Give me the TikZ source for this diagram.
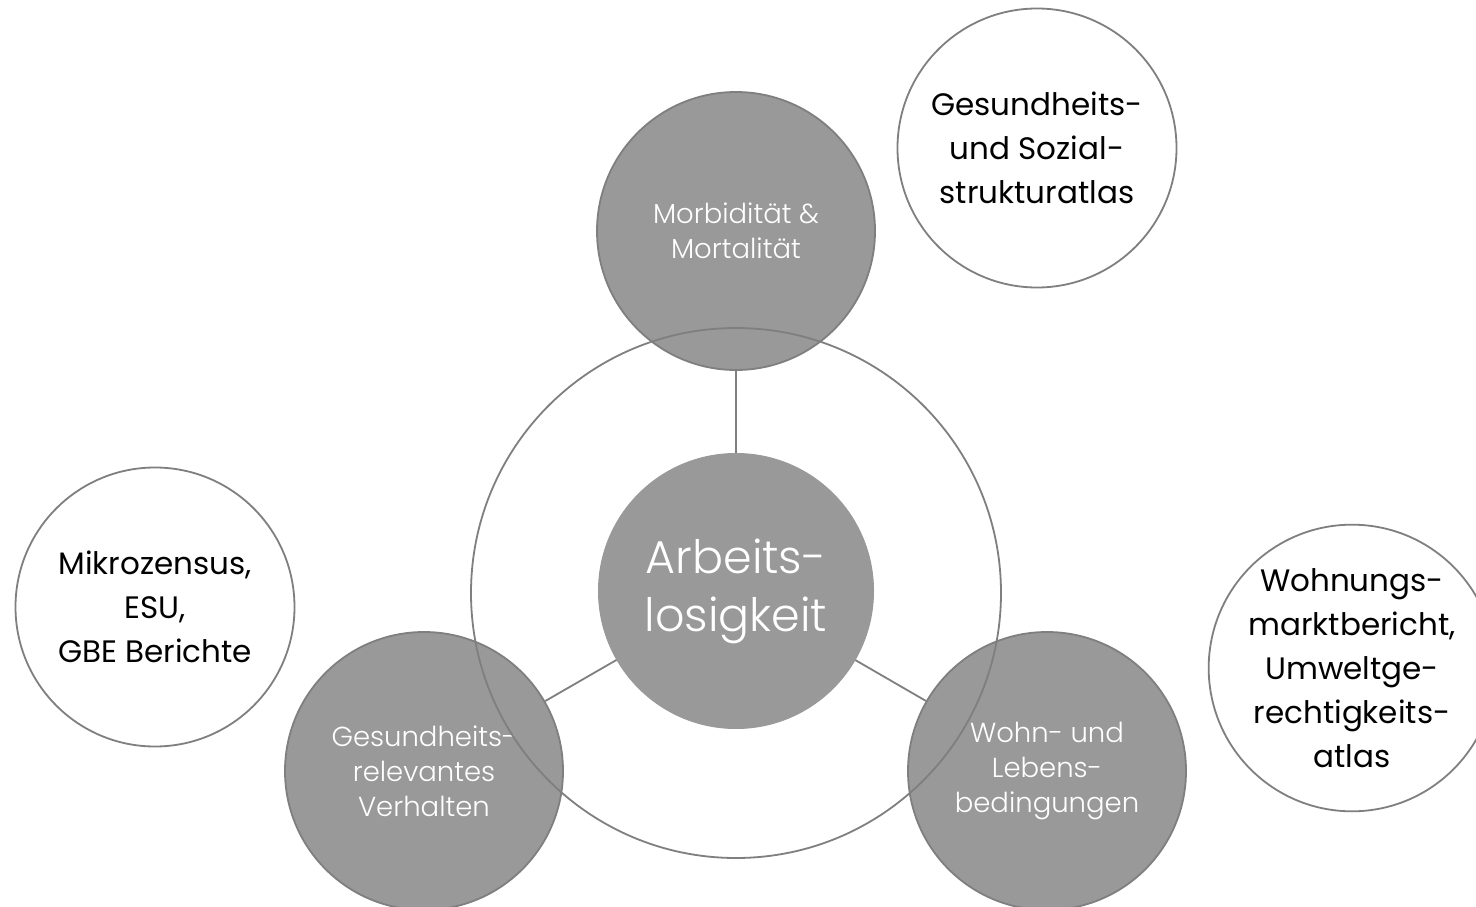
\documentclass[tikz,border=0pt]{standalone}
\usepackage{fontspec}
\setmainfont{Poppins}
\newfontfamily\thinfont{Poppins Light}
\definecolor{fillgray}{HTML}{999999}
\definecolor{linegray}{HTML}{7F7F7F}
\tikzset{
  topic/.style={circle, draw=linegray, line width=1.8pt, fill=fillgray, minimum size=278pt, inner sep=0pt, align=center, text=white, font=\thinfont\fontsize{27.5}{35}\selectfont},
  core/.style={circle, draw=fillgray, line width=1pt, fill=fillgray, minimum size=275pt, inner sep=0pt, align=center, text=white, font=\thinfont\fontsize{46}{58}\selectfont},
  source/.style={circle, draw=linegray, line width=1.8pt, fill=white, minimum size=279pt, inner sep=0pt, align=center, text=black, font=\fontsize{31}{44}\selectfont},
  ringstyle/.style={circle, draw=linegray, line width=1.8pt, minimum size=530pt, inner sep=0pt},
  link/.style={draw=linegray, line width=1.8pt}
}
\begin{document}
\begin{tikzpicture}[x=1pt,y=-1pt]
\useasboundingbox (0,0) rectangle (1476,907);
\clip (0,0) rectangle (1476,907);
\fill[white] (0,0) rectangle (1476,907);
\node[source] (gss) at (1037,148) {Gesundheits-\\und Sozial-\\strukturatlas};
\node[source] (mik) at (155,607) {Mikrozensus,\\ESU,\\GBE Berichte};
\node[source] (wmb) at (1352,668) {Wohnungs-\\marktbericht,\\Umweltge-\\rechtigkeits-\\atlas};
\node[topic] (morb) at (736,231) {Morbidität \&\\Mortalität};
\node[topic] (verh) at (424,771) {Gesundheits-\\relevantes\\Verhalten};
\node[topic] (wohn) at (1047,771) {Wohn- und\\Lebens-\\bedingungen};
\node[ringstyle] (ring) at (736,593) {};
\node[core] (arb) at (736,591) {Arbeits-\\losigkeit};
\draw[link] (morb) -- (arb);
\draw[link] (arb) -- (verh);
\draw[link] (arb) -- (wohn);
\end{tikzpicture}
\end{document}
